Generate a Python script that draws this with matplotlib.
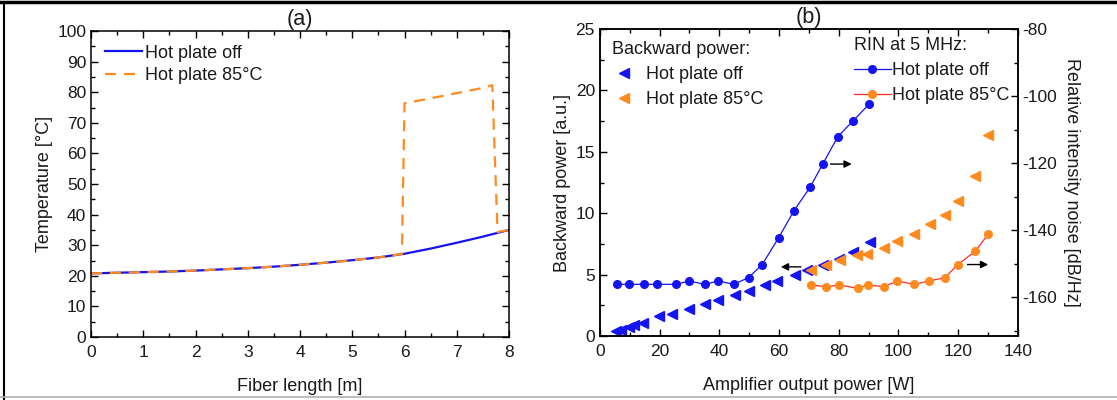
import matplotlib
matplotlib.use("Agg")
import matplotlib.pyplot as plt
from matplotlib.lines import Line2D
from matplotlib.ticker import MultipleLocator

plt.rcParams['font.family'] = ['Liberation Sans', 'DejaVu Sans']
plt.rcParams['font.size'] = 13
plt.rcParams['axes.unicode_minus'] = False

BLUE = '#1414f0'
ORANGE = '#ff8a1e'
RED = '#ff2a2a'
TXT = '#1a1a1a'

# (a) temperature along the fiber
fiber_x = [0, 0.5, 1, 1.5, 2, 2.5, 3, 3.5, 4, 4.5, 5, 5.5, 6, 6.5, 7, 7.5, 8]
temp_off = [20.8, 21.0, 21.2, 21.4, 21.7, 22.1, 22.5, 23.0, 23.6, 24.3, 25.1,
            26.0, 27.2, 28.9, 30.8, 32.8, 35.0]
fiber_x_hot = [0, 0.5, 1, 1.5, 2, 2.5, 3, 3.5, 4, 4.5, 5, 5.5, 5.95, 6.0,
               6.5, 7.0, 7.5, 7.68, 7.78, 8.0]
temp_hot = [20.8, 21.0, 21.2, 21.4, 21.7, 22.1, 22.5, 23.0, 23.6, 24.3, 25.1,
            26.0, 27.1, 76.4, 78.0, 79.7, 81.4, 82.3, 34.3, 35.0]

# (b) backward power vs amplifier output
bw_off_x = [5.5, 7, 9.8, 11.4, 14.4, 19.7, 24.2, 29.9, 35.3, 39.7, 45.3, 49.8,
            55.4, 59.4, 65.4, 69.5, 74.8, 80, 84.9, 90.4]
bw_off = [0.38, 0.46, 0.73, 0.87, 1.09, 1.6, 1.82, 2.23, 2.64, 2.91, 3.37, 3.64,
          4.18, 4.46, 4.95, 5.41, 5.76, 6.3, 6.85, 7.66]
bw_hot_x = [70.7, 75.9, 80.5, 86.2, 89.5, 95.1, 99.6, 105.2, 110.7, 115.6,
            119.9, 125.7, 130]
bw_hot = [5.35, 5.76, 6.17, 6.58, 6.71, 7.17, 7.72, 8.34, 9.08, 9.89, 10.98,
          13.04, 16.36]

# RIN at 5 MHz
rin_off_x = [5.9, 9.8, 14.8, 19.3, 25.5, 29.9, 35.1, 39.7, 44.9, 49.8, 54.4,
             59.9, 65, 70.4, 74.7, 79.7, 84.9, 90.2]
rin_off = [-156.1, -156.1, -156.1, -156.1, -156.1, -155.1, -156.1, -155.1,
           -156.1, -154.1, -150.2, -142.2, -134.2, -127.2, -120.2, -112.1,
           -107.3, -102.4]
rin_hot_x = [70.7, 75.9, 80.2, 86.4, 89.8, 95.1, 99.6, 105.2, 110.3, 115.6,
             119.9, 125.8, 130]
rin_hot = [-156.3, -156.8, -156.3, -157.3, -156.3, -156.8, -155.1, -156.1,
           -155.1, -154.1, -150.2, -146.2, -141.2]

fig = plt.figure(figsize=(11.17, 4.0), dpi=100)


def style_axis(ax, right=True):
    for s in ax.spines.values():
        s.set_linewidth(1.1)
    ax.tick_params(which='both', direction='in', top=True, right=right,
                   width=1.0, colors='black', labelcolor=TXT, labelsize=12.5)
    ax.tick_params(which='major', length=5)
    ax.tick_params(which='minor', length=3)
    ax.tick_params(axis='x', pad=6)


# ---- panel (a)
ax1 = fig.add_axes([0.0815, 0.1575, 0.3742, 0.765])
ax1.plot(fiber_x, temp_off, color=BLUE, lw=1.6, label='Hot plate off')
ax1.plot(fiber_x_hot, temp_hot, color=ORANGE, lw=1.6, ls=(0, (5, 3.5)),
         label='Hot plate 85°C')
ax1.set_xlim(0, 8)
ax1.set_ylim(0, 100)
ax1.xaxis.set_major_locator(MultipleLocator(1))
ax1.xaxis.set_minor_locator(MultipleLocator(0.5))
ax1.yaxis.set_major_locator(MultipleLocator(10))
ax1.yaxis.set_minor_locator(MultipleLocator(5))
style_axis(ax1)
ax1.set_xlabel('Fiber length [m]', color=TXT, labelpad=13)
ax1.set_ylabel('Temperature [°C]', color=TXT, labelpad=3)
ax1.set_title('(a)', color=TXT, pad=4)
ax1.legend(loc='upper left', frameon=False, handlelength=2.1,
           handletextpad=0.15, borderaxespad=0.35, labelspacing=0.3,
           labelcolor=TXT)

# ---- panel (b)
ax2 = fig.add_axes([0.537, 0.16, 0.3742, 0.7675])
ax3 = ax2.twinx()
bw1, = ax2.plot(bw_off_x, bw_off, ls='none', marker='<', ms=6.5, color=BLUE)
bw2, = ax2.plot(bw_hot_x, bw_hot, ls='none', marker='<', ms=6.5, color=ORANGE)
r1, = ax3.plot(rin_off_x, rin_off, color=BLUE, lw=0.9, marker='o', ms=5.5)
r2, = ax3.plot(rin_hot_x, rin_hot, color=RED, lw=0.9, marker='o', ms=5.5,
               mfc=ORANGE, mec=ORANGE)
ax2.set_xlim(0, 140)
ax2.set_ylim(0, 25)
ax3.set_ylim(-171.5, -80)
ax2.xaxis.set_major_locator(MultipleLocator(20))
ax2.xaxis.set_minor_locator(MultipleLocator(10))
ax2.yaxis.set_major_locator(MultipleLocator(5))
ax2.yaxis.set_minor_locator(MultipleLocator(2.5))
ax3.yaxis.set_major_locator(MultipleLocator(20))
ax3.yaxis.set_minor_locator(MultipleLocator(10))
style_axis(ax2, right=False)
for s in ax3.spines.values():
    s.set_linewidth(1.1)
ax3.tick_params(which='both', direction='in', width=1.0, labelcolor=TXT,
                labelsize=12.5)
ax3.tick_params(which='major', length=5)
ax3.tick_params(which='minor', length=3)
ax2.set_xlabel('Amplifier output power [W]', color=TXT, labelpad=13)
ax2.set_ylabel('Backward power [a.u.]', color=TXT, labelpad=3)
ax3.set_ylabel('Relative intensity noise [dB/Hz]', color=TXT, rotation=270,
               labelpad=16)
ax2.set_title('(b)', color=TXT, pad=4)

# arrows pointing to the matching axis
arrow = dict(arrowstyle='-|>', color='black', lw=1.0, mutation_scale=11)
ax2.annotate('', xy=(85.3, 14.0), xytext=(76.3, 14.0), arrowprops=arrow)
ax2.annotate('', xy=(59.7, 5.63), xytext=(68.3, 5.63), arrowprops=arrow)
ax2.annotate('', xy=(131.0, 5.82), xytext=(122.2, 5.82), arrowprops=arrow)

leg1 = ax3.legend([bw1, bw2], ['Hot plate off', 'Hot plate 85°C'],
                  title='Backward power:', loc='upper left', frameon=False,
                  alignment='left', handlelength=1.4, handletextpad=0.5,
                  borderaxespad=0.25, labelspacing=0.45, labelcolor=TXT,
                  title_fontsize=13)
leg1.get_title().set_color(TXT)
ax3.add_artist(leg1)
leg2 = ax3.legend([r1, r2], ['Hot plate off', 'Hot plate 85°C'],
                  title='RIN at 5 MHz:', loc='upper right', frameon=False,
                  alignment='left', handlelength=2.0, handletextpad=0.1,
                  borderaxespad=0.0, labelspacing=0.45, labelcolor=TXT,
                  title_fontsize=13, borderpad=0.45)
leg2.get_title().set_color(TXT)

# page border
fig.add_artist(Line2D([0, 1], [0.995, 0.995], color='black', lw=2.5))
fig.add_artist(Line2D([0.004, 0.004], [0.0, 0.995], color='black', lw=1.5))
fig.add_artist(Line2D([0, 1], [0.008, 0.008], color='#b0b0b0', lw=1.2))

fig.savefig('out.png', dpi=100)
